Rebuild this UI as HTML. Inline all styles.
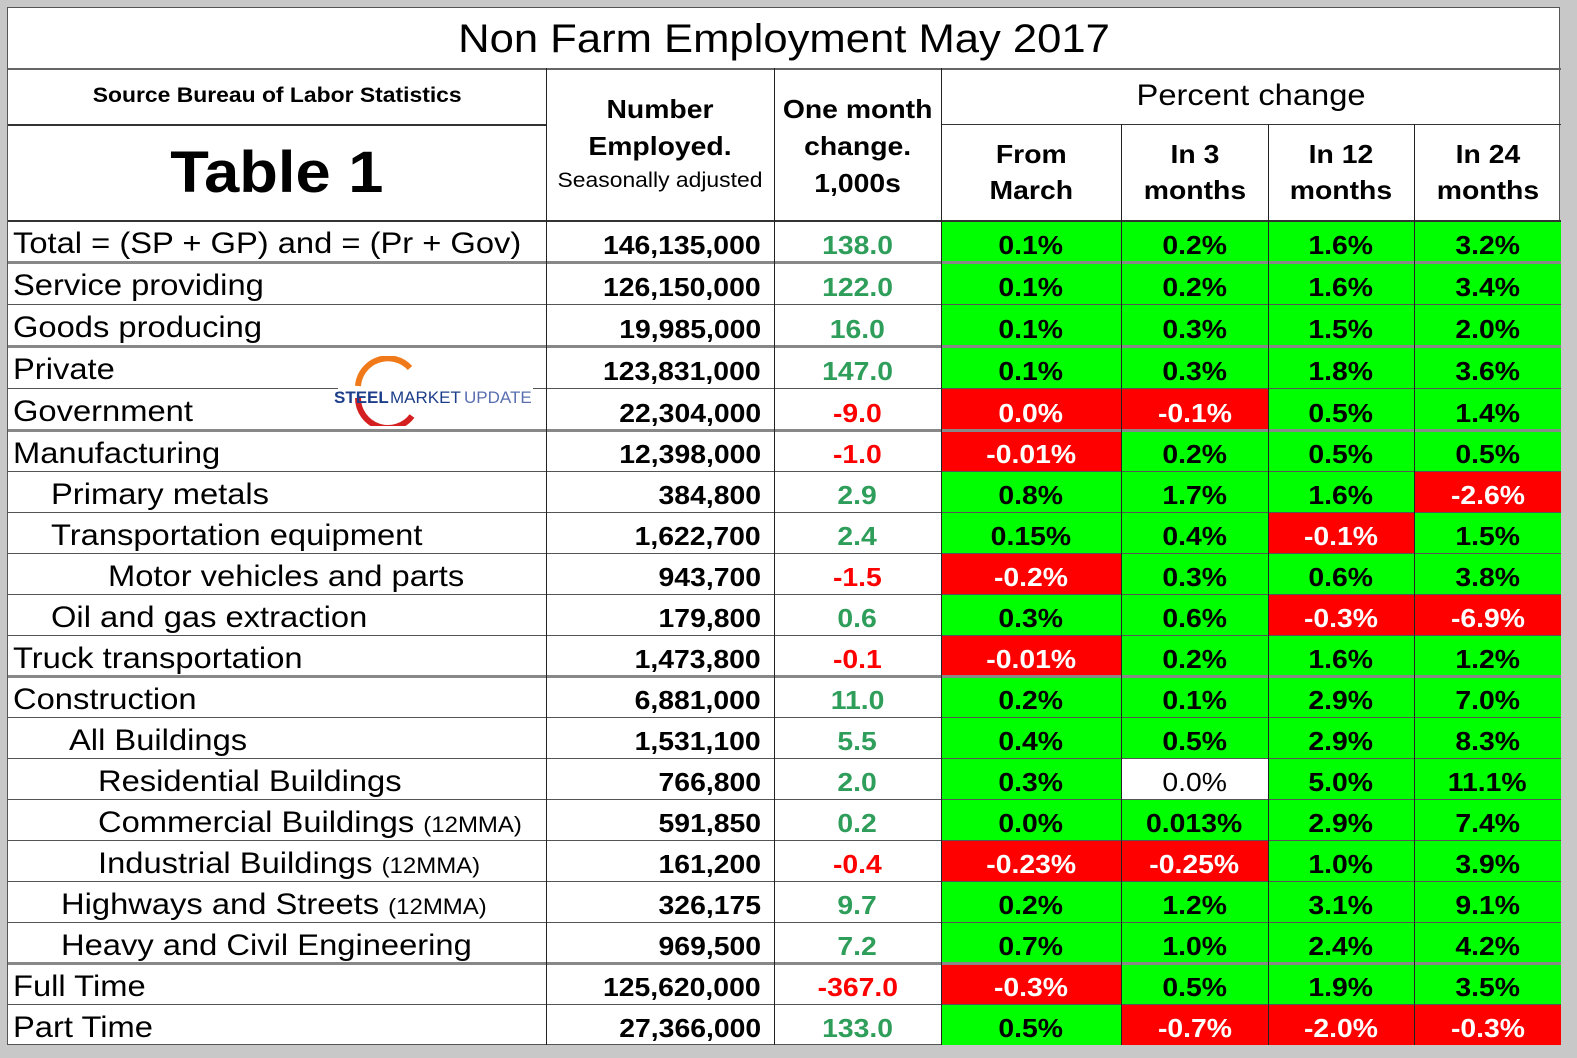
<!DOCTYPE html>
<html><head><meta charset="utf-8"><style>
body{margin:0;width:1577px;height:1058px;background:#c8c8c8;position:relative;overflow:hidden;font-family:"Liberation Sans",Arial,sans-serif}
#tbl{position:absolute;left:7px;top:7px;width:1553px;height:1038px;background:#fff;border:1px solid #555;box-sizing:border-box}
.c{position:absolute;box-sizing:border-box;display:flex;align-items:center;justify-content:center;text-align:center;white-space:nowrap}
.c>span{display:inline-block;transform:scaleX(1.09);transform-origin:center}
.L>span{transform-origin:left center}
.R>span{transform-origin:right center}
.h{position:absolute;height:1px;background:#666}
.v{position:absolute;width:1px;background:#222}
</style></head><body>
<div id="tbl"></div>
<script>
const labels=["Total = (SP + GP) and = (Pr + Gov)","Service providing","Goods producing","Private","Government","Manufacturing","Primary metals","Transportation equipment","Motor vehicles and parts","Oil and gas extraction","Truck transportation","Construction","All Buildings","Residential Buildings","Commercial Buildings","Industrial Buildings","Highways and Streets","Heavy and Civil Engineering","Full Time","Part Time"];
const suffix=["","","","","","","","","","","","","","","(12MMA)","(12MMA)","(12MMA)","","",""];
const indents=[5,5,5,5,5,5,43,43,100,43,5,5,61,90,90,90,53,53,5,5];
const employed=["146,135,000","126,150,000","19,985,000","123,831,000","22,304,000","12,398,000","384,800","1,622,700","943,700","179,800","1,473,800","6,881,000","1,531,100","766,800","591,850","161,200","326,175","969,500","125,620,000","27,366,000"];
const monthChange=[138.0,122.0,16.0,147.0,-9.0,-1.0,2.9,2.4,-1.5,0.6,-0.1,11.0,5.5,2.0,0.2,-0.4,9.7,7.2,-367.0,133.0];
const fromMarch=["0.1%","0.1%","0.1%","0.1%","0.0%","-0.01%","0.8%","0.15%","-0.2%","0.3%","-0.01%","0.2%","0.4%","0.3%","0.0%","-0.23%","0.2%","0.7%","-0.3%","0.5%"];
const in3=["0.2%","0.2%","0.3%","0.3%","-0.1%","0.2%","1.7%","0.4%","0.3%","0.6%","0.2%","0.1%","0.5%","0.0%","0.013%","-0.25%","1.2%","1.0%","0.5%","-0.7%"];
const in12=["1.6%","1.6%","1.5%","1.8%","0.5%","0.5%","1.6%","-0.1%","0.6%","-0.3%","1.6%","2.9%","2.9%","5.0%","2.9%","1.0%","3.1%","2.4%","1.9%","-2.0%"];
const in24=["3.2%","3.4%","2.0%","3.6%","1.4%","0.5%","-2.6%","1.5%","3.8%","-6.9%","1.2%","7.0%","8.3%","11.1%","7.4%","3.9%","9.1%","4.2%","3.5%","-0.3%"];
const fmC="ggggrrggrgrggggrggrg", i3C="ggggrggggggggwgrgggr", i12C="gggggggrgrgggggggggr", i24C="ggggggrggrgggggggggr";
const T=document.getElementById('tbl');
const X=[0,538,766,933,1113,1260,1406,1553];
const rowTop=[212,254,296,338,380,422,463,504,545,586,627,668,709,750,791,832,873,914,955,996,1037];
const thick=[254,338,422,668,955];
function add(x,y,w,h,html,style,name,cls){const d=document.createElement('div');d.className='c '+(cls||'');


d.style.cssText=`left:${x}px;top:${y}px;width:${w}px;height:${h}px;`+(style||'');d.innerHTML='<span>'+html+'</span>';T.appendChild(d);return d;}
add(0,0,1553,60,'Non Farm Employment May 2017','font-size:40px;padding-top:2px;','table-title');
add(0,60,538,56,'Source Bureau of Labor Statistics','font-size:21px;font-weight:bold;','source-label');
add(0,116,538,96,'Table 1','font-size:58px;font-weight:bold;','table-number');
add(538,60,228,152,'<div style="font-size:26px;font-weight:bold;line-height:37px">Number<br>Employed.</div><div style="font-size:21px;line-height:32px">Seasonally adjusted</div>','','number-employed-header');
add(766,60,167,152,'<div style="font-size:26px;font-weight:bold;line-height:37px">One month<br>change.<br>1,000s</div>','padding-top:4px','one-month-change-header');
add(933,60,620,56,'Percent change','font-size:30px;','percent-change-header');
const ph=['From<br>March','In 3<br>months','In 12<br>months','In 24<br>months'];
for(let i=0;i<4;i++)add(X[i+3],116,X[i+4]-X[i+3],96,`<div style="font-size:26px;font-weight:bold;line-height:36px">${ph[i]}</div>`,'','pct-header-'+i);
const pctCols=[fromMarch,in3,in12,in24];
const colC=[fmC,i3C,i12C,i24C];
const bg={g:'#00ff00',r:'#ff0000',w:'#ffffff'};
for(let r=0;r<20;r++){
 const y=rowTop[r],h=rowTop[r+1]-y;
 const lab=labels[r]+(suffix[r]?` <span style="font-size:22px">${suffix[r]}</span>`:'');
 add(indents[r],y,538-indents[r],h,lab,'justify-content:flex-start;font-size:30px;padding-top:6px;','row-label','L');
 add(538,y,228,h,employed[r],'justify-content:flex-end;padding-right:13px;font-size:26px;font-weight:bold;padding-top:8px;','number-employed','R');
 const v=monthChange[r];
 add(766,y,167,h,v.toFixed(1),`font-size:26px;font-weight:bold;padding-top:8px;color:${v<0?'#ff0000':'#2e9e5a'}`,'month-change');
 for(let c=0;c<4;c++){const k=colC[c][r];
  add(X[c+3],y,X[c+4]-X[c+3],h,pctCols[c][r],`background:${bg[k]};color:${k=='r'?'#fff':'#000'};font-size:26px;font-weight:${k=='w'?'normal':'bold'};padding-top:8px;`,'pct-cell');}
}
function line(cls,x,y,w,h,name,col){const d=document.createElement('div');d.className=cls;


d.style.cssText=`left:${x}px;top:${y}px;width:${w}px;height:${h}px;`+(col?`background:${col}`:'');T.appendChild(d);}
line('h',0,60,1553,2,'title-rule','#666');
line('h',0,116,538,2,'source-rule','#333');
line('h',933,116,620,1,'pct-rule','#333');
line('h',0,212,1553,2,'header-rule','#333');
for(let r=1;r<20;r++){const y=rowTop[r];const t=thick.includes(y);if(r==4)continue;line('h',0,y-(t?1:0),1553,t?3:1,'row-rule',t?'#888':'#555');}
line('h',0,380,330,1,'row-rule','#555');line('h',525,380,1028,1,'row-rule','#555');
for(let i=1;i<7;i++){if(i<=3)line('v',X[i],60,1,977,'col-rule');else line('v',X[i],116,1,921,'col-rule');}
const lg=document.createElement('div');


lg.style.cssText='position:absolute;left:322px;top:348px;width:210px;height:70px;';
lg.innerHTML='<svg width="210" height="70"><path d="M80 12 A30 30 0 0 0 28 30" stroke="#f07a1a" stroke-width="6" fill="none"/><path d="M28 42 A30 30 0 0 0 82 60" stroke="#d42020" stroke-width="6" fill="none"/><text x="4" y="47" font-family="Liberation Sans" font-size="17" font-weight="bold" fill="#1d3f8a">STEEL</text><text x="60" y="47" font-family="Liberation Sans" font-size="17" fill="#1d3f8a">MARKET</text><text x="134" y="47" font-family="Liberation Sans" font-size="17" fill="#5a6fb0">UPDATE</text></svg>';
T.appendChild(lg);
</script>
</body></html>
